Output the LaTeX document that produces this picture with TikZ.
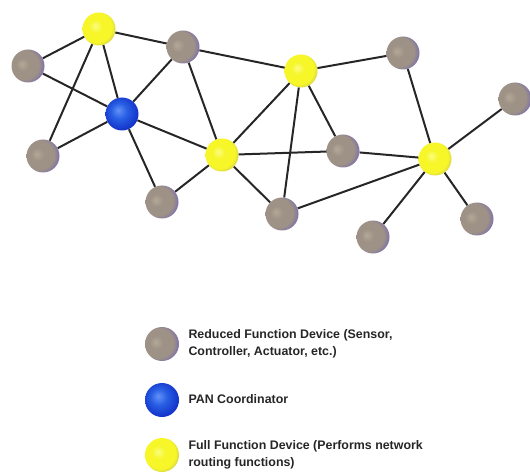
\documentclass[tikz,border=0pt]{standalone}
\usepackage{fontspec}
\setmainfont{Liberation Sans}
\usepackage{tikz}
\definecolor{rfdlight}{RGB}{180,168,152}
\definecolor{rfdmid}{RGB}{158,146,134}
\definecolor{rfdedge}{RGB}{108,96,188}
\definecolor{panlight}{RGB}{100,145,248}
\definecolor{panmid}{RGB}{40,95,228}
\definecolor{panedge}{RGB}{18,48,200}
\definecolor{ffdlight}{RGB}{252,252,130}
\definecolor{ffdmid}{RGB}{246,246,40}
\definecolor{ffdedge}{RGB}{180,175,110}
\pgfdeclareradialshading{rfdshade}{\pgfqpoint{-10bp}{3bp}}{color(0bp)=(rfdlight); color(10bp)=(rfdmid); color(22bp)=(rfdmid); color(33bp)=(rfdedge); color(50bp)=(rfdedge)}
\pgfdeclareradialshading{panshade}{\pgfqpoint{-6bp}{6bp}}{color(0bp)=(panlight); color(12bp)=(panmid); color(28bp)=(panedge); color(50bp)=(panedge)}
\pgfdeclareradialshading{ffdshade}{\pgfqpoint{-6bp}{5bp}}{color(0bp)=(ffdlight); color(10bp)=(ffdmid); color(23bp)=(ffdmid); color(34bp)=(ffdedge); color(50bp)=(ffdedge)}
\tikzstyle{dev} = [circle, minimum size=33pt, inner sep=0pt]
\tikzstyle{rfd} = [dev, shading=rfdshade]
\tikzstyle{pan} = [dev, shading=panshade]
\tikzstyle{ffd} = [dev, shading=ffdshade]
\tikzstyle{link} = [draw=black!85, line width=2pt]
\tikzstyle{legendtext} = [anchor=west, align=left, text=black!85, font=\bfseries\fontsize{12.4}{17.5}\selectfont]

\begin{document}
\begin{tikzpicture}[x=1pt, y=-1pt]
		\useasboundingbox (0,0) rectangle (530,473);

		\node (ffd1) [ffd] at (99,29) {};
		\node (ffd2) [ffd] at (222,155) {};
		\node (ffd3) [ffd] at (301,71) {};
		\node (ffd4) [ffd] at (435,159) {};
		\node (pan) [pan] at (122,114) {};
		\node (rfd1) [rfd] at (28,66) {};
		\node (rfd2) [rfd] at (43,156) {};
		\node (rfd3) [rfd] at (183,47) {};
		\node (rfd4) [rfd] at (162,202) {};
		\node (rfd5) [rfd] at (343,151) {};
		\node (rfd6) [rfd] at (282,214) {};
		\node (rfd7) [rfd] at (403,53) {};
		\node (rfd8) [rfd] at (515,99) {};
		\node (rfd9) [rfd] at (477,219) {};
		\node (rfd10) [rfd] at (373,237) {};

		\draw [link] (ffd1) -- (rfd1);
		\draw [link] (ffd1) -- (pan);
		\draw [link] (ffd1) -- (rfd2);
		\draw [link] (ffd1) -- (rfd3);
		\draw [link] (rfd1) -- (pan);
		\draw [link] (pan) -- (rfd2);
		\draw [link] (pan) -- (rfd3);
		\draw [link] (pan) -- (ffd2);
		\draw [link] (pan) -- (rfd4);
		\draw [link] (rfd3) -- (ffd2);
		\draw [link] (rfd3) -- (ffd3);
		\draw [link] (rfd4) -- (ffd2);
		\draw [link] (ffd2) -- (ffd3);
		\draw [link] (ffd2) -- (rfd5);
		\draw [link] (ffd2) -- (rfd6);
		\draw [link] (ffd3) -- (rfd6);
		\draw [link] (ffd3) -- (rfd5);
		\draw [link] (ffd3) -- (rfd7);
		\draw [link] (rfd5) -- (ffd4);
		\draw [link] (rfd6) -- (ffd4);
		\draw [link] (rfd7) -- (ffd4);
		\draw [link] (ffd4) -- (rfd8);
		\draw [link] (ffd4) -- (rfd9);
		\draw [link] (ffd4) -- (rfd10);

		\node (keyrfd) [rfd, minimum size=34pt] at (162,344) {};
		\node (keypan) [pan, minimum size=34pt] at (162,400) {};
		\node (keyffd) [ffd, minimum size=34pt] at (162,455) {};
		\node (txtrfd) [legendtext] at (185,344) {Reduced Function Device (Sensor,\\Controller, Actuator, etc.)};
		\node (txtpan) [legendtext] at (185,399) {PAN Coordinator};
		\node (txtffd) [legendtext] at (185,455) {Full Function Device (Performs network\\routing functions)};
	\end{tikzpicture}
\end{document}
